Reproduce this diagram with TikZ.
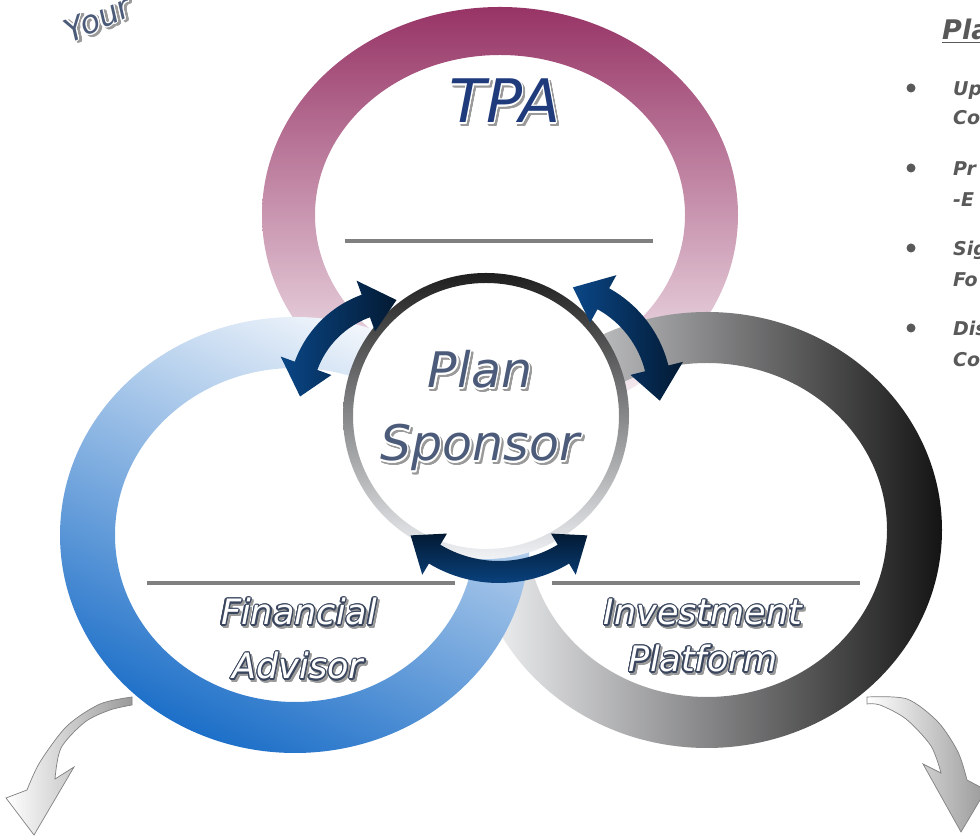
\documentclass[tikz,border=0pt]{standalone}
\usepackage{fontspec}
\setmainfont{DejaVu Sans}
\usepackage[copies]{contour}
\contourlength{1.3pt}
\definecolor{tpaTop}{HTML}{973466}
\definecolor{tpaBot}{HTML}{FBF8FA}
\definecolor{faTop}{HTML}{F5F8FC}
\definecolor{faBot}{HTML}{1B6EC8}
\definecolor{ipL}{HTML}{F7F8FA}
\definecolor{ipR}{HTML}{141414}
\definecolor{psTop}{HTML}{1E1E1E}
\definecolor{psBot}{HTML}{F0F2F5}
\definecolor{arBlue}{HTML}{0A4686}
\definecolor{arDark}{HTML}{031A33}
\definecolor{lineGray}{HTML}{808080}
\definecolor{tpaText}{HTML}{1F3B7C}
\definecolor{slate}{HTML}{4B5B79}
\definecolor{slateDark}{HTML}{3A465E}
\definecolor{shade}{HTML}{9A9A9A}
\definecolor{bulletGray}{HTML}{595959}
\newcommand{\wordart}[4]{\rlap{\kern2pt\raisebox{-2.5pt}{\color{#3}\contour{#3}{#4}}}{\color{#1}\contour{#2}{#4}}}
% curved double arrow: #1 style, #2 centre, #3 radius, #4 start angle, #5 end angle, #6 head angle
\newcommand{\curvearrow}[6]{%
  \path[#1, shift={#2}] ({#4+#6}:{#3+\bw}) arc[start angle={#4+#6}, end angle={#5-#6}, radius={#3+\bw}]
    -- ({#5-#6}:{#3+\hw}) -- (#5:#3) -- ({#5-#6}:{#3-\hw}) -- ({#5-#6}:{#3-\bw})
    arc[start angle={#5-#6}, end angle={#4+#6}, radius={#3-\bw}]
    -- ({#4+#6}:{#3-\hw}) -- (#4:#3) -- ({#4+#6}:{#3+\hw}) -- cycle;}
\tikzset{
  gline/.style={draw=lineGray, line width=4pt},
  navyarrow/.style={left color=arBlue, right color=arDark},
  silver/.style={left color=white, right color=shade, draw=gray, line width=0.7pt},
  wa/.style={inner sep=0pt, anchor=base},
  side/.style={inner sep=0pt, anchor=base west, text=bulletGray, font=\bfseries\itshape\fontsize{19}{22}\selectfont},
  bul/.style={circle, fill=bulletGray, inner sep=0pt, minimum size=9pt}
}
\begin{document}
\begin{tikzpicture}[x=1pt, y=1pt]
\useasboundingbox (0,0) rectangle (980,840);
\clip (0,0) rectangle (980,840);
% rings
\path[even odd rule, top color=tpaTop, bottom color=tpaBot]
  (500,625) ellipse [x radius=238, y radius=208] (500,625) ellipse [x radius=185, y radius=160];
\path[even odd rule, left color=ipL, right color=ipR]
  (707,310) ellipse [x radius=235, y radius=218] (707,310) ellipse [x radius=180, y radius=167];
\path[even odd rule, top color=faTop, bottom color=faBot, shading angle=-25]
  (295,305) ellipse [x radius=235, y radius=218] (295,305) ellipse [x radius=180, y radius=167];
% separator lines
\draw[gline] (345,599) -- (653,599);
\draw[gline] (147,257) -- (455,257);
\draw[gline] (552,257) -- (860,257);
% plan sponsor circle
\fill[white] (486,424) circle (134);
\path[even odd rule, top color=psTop, bottom color=psBot] (486,424) circle (143) (486,424) circle (133);
% navy arrows
\def\bw{12}\def\hw{27}
\curvearrow{navyarrow}{(400,440)}{100}{92}{178}{18}
\curvearrow{navyarrow}{(550,445)}{110}{-3}{78}{17}
\def\bw{11}\def\hw{24}
\curvearrow{top color=arDark, bottom color=arBlue}{(499,393)}{125}{225}{315}{14}
% silver arrows
\path[silver] plot[smooth] coordinates {(132,143) (100,136) (67,114) (40,78) (27,50)}
  -- (6,42) -- (34,5) -- (74,73) -- (55,61)
  -- plot[smooth] coordinates {(55,61) (61,92) (85,118) (110,130) (132,135)} -- cycle;
\path[silver] plot[smooth] coordinates {(867,143) (907,141) (938,118) (958,88) (967,60)}
  -- (986,50) -- (961,8) -- (923,76) -- (941,67)
  -- plot[smooth] coordinates {(941,67) (931,94) (906,121) (880,135) (867,136)} -- cycle;
% main labels
\node[wa, font=\itshape\fontsize{60}{66}\selectfont] (tpa) at (505,717) {\wordart{tpaText}{white}{shade}{TPA}};
\node[wa, font=\itshape\fontsize{49}{54}\selectfont] (plan) at (480,452) {\wordart{slate}{white}{shade}{Plan}};
\node[wa, font=\itshape\fontsize{49}{54}\selectfont] (sponsor) at (480,379) {\wordart{slate}{white}{shade}{Sponsor}};
\node[wa, font=\itshape\fontsize{35}{40}\selectfont] (fin) at (299,215) {\wordart{white}{slateDark}{shade}{Financial}};
\node[wa, font=\itshape\fontsize{35}{40}\selectfont] (adv) at (298,161) {\wordart{white}{slateDark}{shade}{Advisor}};
\node[wa, font=\itshape\fontsize{35}{40}\selectfont] (inv) at (703,215) {\wordart{white}{slateDark}{shade}{Investment}};
\node[wa, font=\itshape\fontsize{35}{40}\selectfont] (plat) at (703,168) {\wordart{white}{slateDark}{shade}{Platform}};
\node[wa, rotate=24, font=\itshape\fontsize{32}{36}\selectfont] (your) at (102,811) {\wordart{slate}{white}{shade}{Your}};
% right-hand list
\node[side, font=\bfseries\itshape\fontsize{27}{30}\selectfont] (head) at (942,800) {\underline{Pla}};
\node[bul] (b1) at (911,752) {};
\node[bul] (b2) at (911,672) {};
\node[bul] (b3) at (911,592) {};
\node[bul] (b4) at (911,512) {};
\node[side] (t1a) at (953,744) {Up};
\node[side] (t1b) at (953,715) {Co};
\node[side] (t2a) at (953,664) {Pr};
\node[side] (t2b) at (953,633) {-E};
\node[side] (t3a) at (953,584) {Sig};
\node[side] (t3b) at (953,553) {Fo};
\node[side] (t4a) at (953,504) {Dis};
\node[side] (t4b) at (953,473) {Co};
\end{tikzpicture}
\end{document}
